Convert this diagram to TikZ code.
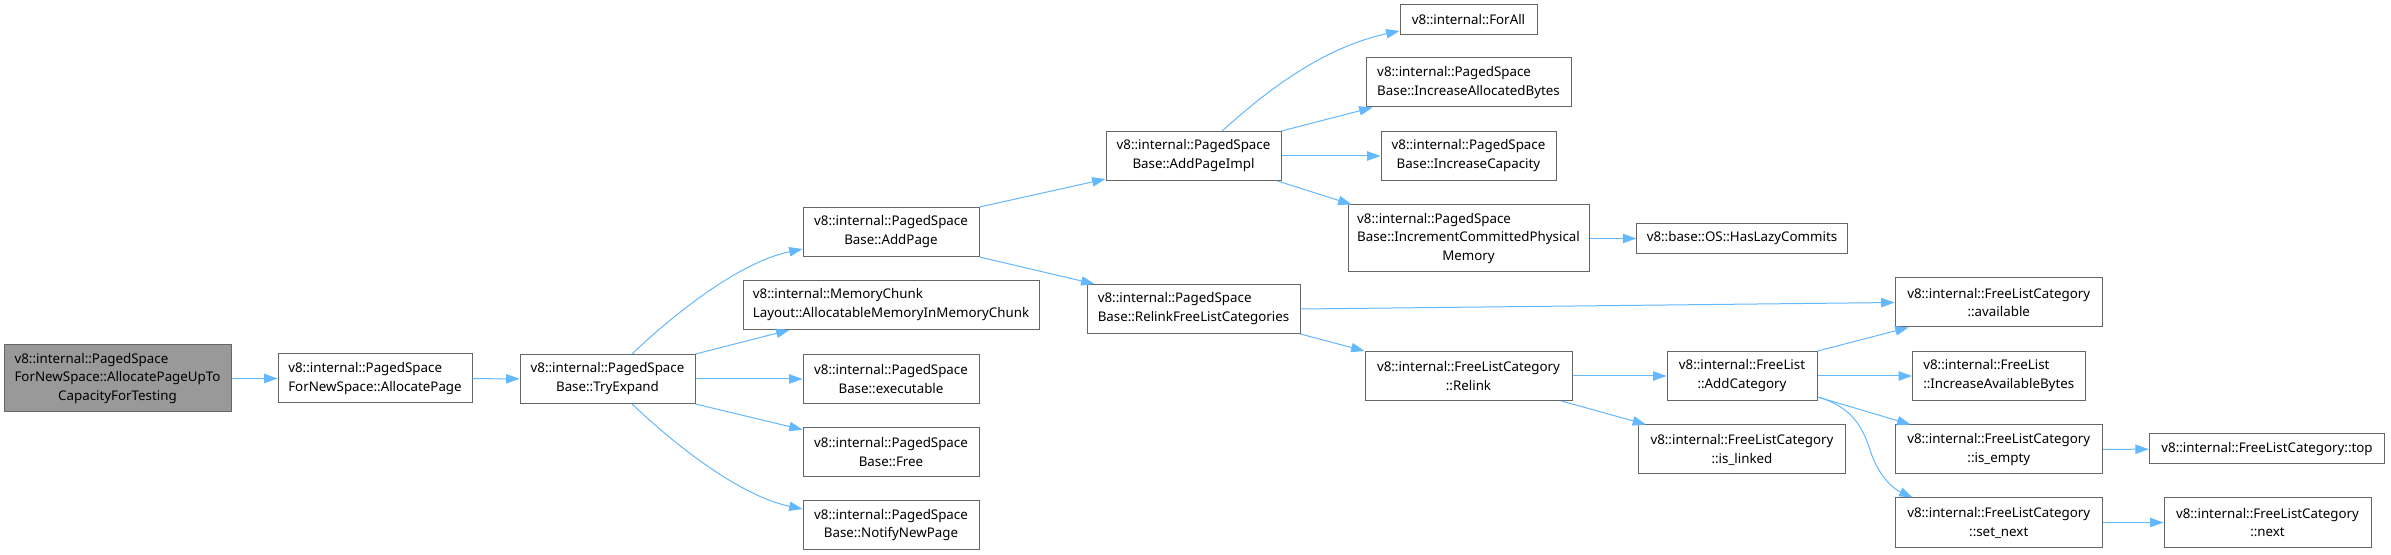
\documentclass[tikz,border=0pt]{standalone}
\usepackage{fontspec}
\setmainfont{Noto Sans}
\usepackage{tikz}
\usetikzlibrary{arrows.meta}
\definecolor{callBlue}{RGB}{99, 184, 255}
\definecolor{boxGray}{RGB}{102, 102, 102}
\definecolor{rootGray}{RGB}{153, 153, 153}
\newcommand{\ctrline}[1]{\hspace*{\fill}#1\hspace*{\fill}}

\begin{document}
\begin{tikzpicture}[
        x=0.75pt, y=-0.75pt,
        font=\fontsize{10}{14.2}\selectfont,
        fn/.style={rectangle, draw=boxGray, fill=white, line width=0.75pt, align=left,
            inner xsep=3pt, inner ysep=1pt, minimum height=36.75pt},
        fn1/.style={fn, minimum height=22.5pt},
        fn3/.style={fn, minimum height=50.25pt},
        call/.style={-{Triangle[length=10pt, width=7pt]}, draw=callBlue, line width=0.75pt}
    ]
    \useasboundingbox[fill=white] (0,0) rectangle (2391,555);

    \node[fn3, fill=rootGray, minimum width=170.25pt] (root) at (117.5,378.5)
        {v8::internal::PagedSpace\\ForNewSpace::AllocatePageUpTo\\\ctrline{CapacityForTesting}};
    \node[fn, minimum width=145.5pt] (allocPage) at (375,378.5)
        {v8::internal::PagedSpace\\ForNewSpace::AllocatePage};
    \node[fn, minimum width=131.25pt] (tryExpand) at (607.5,379) {v8::internal::PagedSpace\\\ctrline{Base::TryExpand}};

    \node[fn, minimum width=132pt] (addPage) at (891,232) {v8::internal::PagedSpace\\\ctrline{Base::AddPage}};
    \node[fn, minimum width=222pt] (memChunk) at (891,305)
        {v8::internal::MemoryChunk\\Layout::AllocatableMemoryInMemoryChunk};
    \node[fn, minimum width=132pt] (executable) at (891,379) {v8::internal::PagedSpace\\\ctrline{Base::executable}};
    \node[fn, minimum width=132pt] (free) at (891,452) {v8::internal::PagedSpace\\\ctrline{Base::Free}};
    \node[fn, minimum width=132pt] (notify) at (891,525) {v8::internal::PagedSpace\\\ctrline{Base::NotifyNewPage}};

    \node[fn, minimum width=131.25pt] (addImpl) at (1193.5,156) {v8::internal::PagedSpace\\\ctrline{Base::AddPageImpl}};
    \node[fn, minimum width=159.75pt] (relinkCats) at (1193.5,309)
        {v8::internal::PagedSpace\\Base::RelinkFreeListCategories};

    \node[fn1, minimum width=102.75pt] (forAll) at (1468.5,20) {v8::internal::ForAll};
    \node[fn, minimum width=153.75pt] (incBytes) at (1468.5,82.5)
        {v8::internal::PagedSpace\\Base::IncreaseAllocatedBytes};
    \node[fn, minimum width=131.25pt] (incCap) at (1468.5,156) {v8::internal::PagedSpace\\\ctrline{Base::IncreaseCapacity}};
    \node[fn3, minimum width=180.75pt] (incPhys) at (1468.5,238.5)
        {v8::internal::PagedSpace\\Base::IncrementCommittedPhysical\\\ctrline{Memory}};
    \node[fn, minimum width=155.25pt] (flcRelink) at (1468.5,376) {v8::internal::FreeListCategory\\\ctrline{::Relink}};

    \node[fn1, minimum width=157.9pt] (lazyCommits) at (1742,238.5) {v8::base::OS::HasLazyCommits};
    \node[fn, minimum width=112.5pt] (addCat) at (1742,376) {v8::internal::FreeList\\\ctrline{::AddCategory}};
    \node[fn, minimum width=155.25pt] (isLinked) at (1742,449.5) {v8::internal::FreeListCategory\\\ctrline{::is\_linked}};

    \node[fn, minimum width=155.6pt] (available) at (1998.75,302.5) {v8::internal::FreeListCategory\\\ctrline{::available}};
    \node[fn, minimum width=129.4pt] (incAvail) at (1998.75,376)
        {v8::internal::FreeList\\::IncreaseAvailableBytes};
    \node[fn, minimum width=155.6pt] (isEmpty) at (1998.75,449.5) {v8::internal::FreeListCategory\\\ctrline{::is\_empty}};
    \node[fn, minimum width=155.6pt] (setNext) at (1998.75,522.5) {v8::internal::FreeListCategory\\\ctrline{::set\_next}};

    \node[fn1, minimum width=176.6pt] (top) at (2267,449) {v8::internal::FreeListCategory::top};
    \node[fn, minimum width=155.25pt] (next) at (2267.5,522.5) {v8::internal::FreeListCategory\\\ctrline{::next}};

    \coordinate (bend) at (1870,450);

    \draw[call] (root) -- (allocPage);
    \draw[call] (allocPage) -- (tryExpand);

    % calls of TryExpand
    \draw[call] ([xshift=18.4pt]tryExpand.north) .. controls (675,313) and (740,262) .. ([yshift=-12.75pt]addPage.west);
    \draw[call] (tryExpand.north east) -- ([xshift=35.25pt]memChunk.south west);
    \draw[call] (tryExpand) -- (executable);
    \draw[call] (tryExpand.south east) -- ([yshift=-2pt]free.north west);
    \draw[call] ([xshift=18.4pt]tryExpand.south) .. controls (675,445) and (740,496) .. ([yshift=12pt]notify.west);

    \draw[call] (addPage.north east) -- ([yshift=1.5pt]addImpl.south west);
    \draw[call] (addPage.south east) -- ([xshift=6pt]relinkCats.north west);

    % calls of AddPageImpl
    \draw[call] ([xshift=21.4pt]addImpl.north) .. controls (1262,95) and (1320,48) .. ([yshift=-8.25pt]forAll.west);
    \draw[call] (addImpl.north east) -- ([xshift=5.25pt]incBytes.south west);
    \draw[call] (addImpl) -- (incCap);
    \draw[call] ([xshift=-3pt]addImpl.south east) -- ([xshift=3pt]incPhys.north west);
    \draw[call] (incPhys) -- (lazyCommits);

    \draw[call] (relinkCats.east) -- (available.west);
    \draw[call] (relinkCats.south east) -- (flcRelink.north west);
    \draw[call] (flcRelink) -- (addCat);
    \draw[call] ([xshift=-8.25pt]flcRelink.south east) -- ([xshift=6pt]isLinked.north west);

    % calls of AddCategory
    \draw[call] (addCat.north east) -- ([xshift=10.5pt]available.south west);
    \draw[call] (addCat) -- (incAvail);
    \draw[call] ([yshift=3pt]addCat.south east) -- ([xshift=12pt]isEmpty.north west);
    \draw[call] ([yshift=3pt]addCat.south east) .. controls (1850,406) and (1862,425) .. (bend)
        .. controls (1878,475) and (1892,488) .. ([xshift=13.5pt]setNext.north west);

    \draw[call] (isEmpty) -- (top);
    \draw[call] (setNext) -- (next);
\end{tikzpicture}
\end{document}
